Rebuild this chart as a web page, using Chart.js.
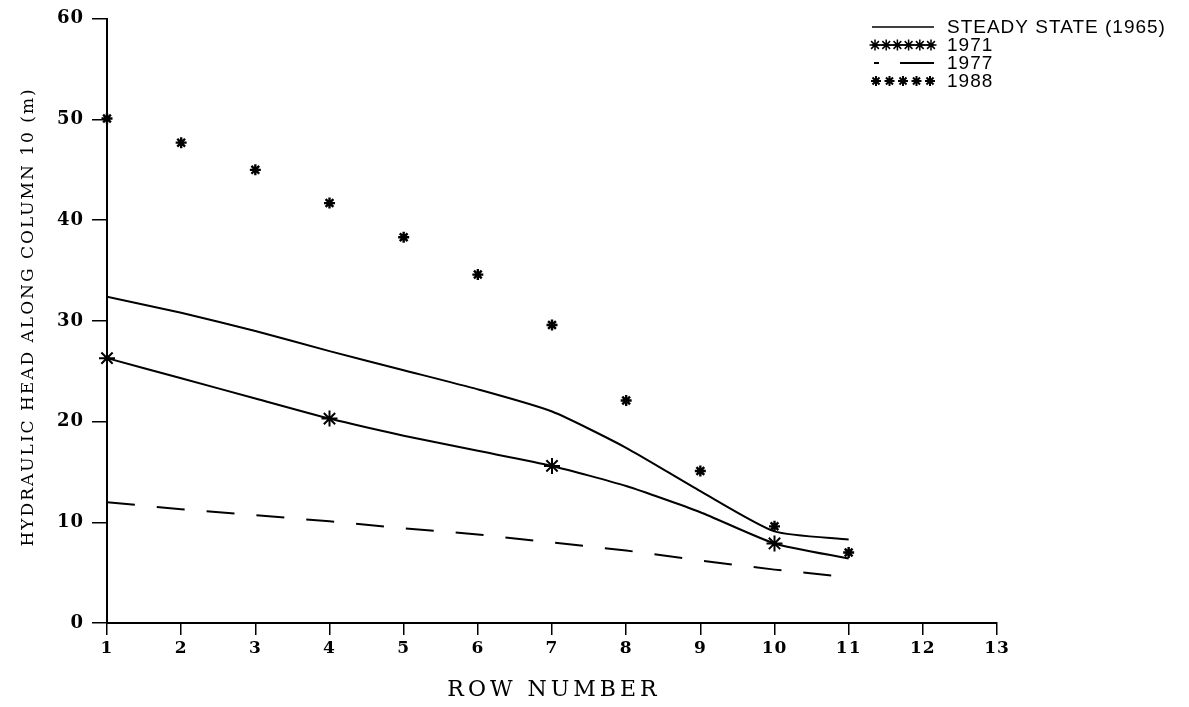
<!DOCTYPE html>
<html lang="en">
<head>
    <meta charset="utf-8">
    <title>Hydraulic head along column 10</title>
    <style>
        html, body { margin: 0; padding: 0; background: #fff; }
        #wrap { width: 1189px; height: 707px; }
    </style>
</head>
<body>
    <div id="wrap">
        <canvas id="myChart" width="1189" height="707"></canvas>
    </div>
    <script src="https://cdn.jsdelivr.net/npm/chart.js"></script>
    <script>
        // data
        const rows = [1, 2, 3, 4, 5, 6, 7, 8, 9, 10, 11];
        const steady1965 = [32.4, 30.8, 29.0, 27.0, 25.1, 23.2, 21.0, 17.4, 13.1, 9.1, 8.3];
        const head1971 = [26.3, 24.3, 22.3, 20.3, 18.6, 17.1, 15.6, 13.6, 11.0, 7.9, 6.4];
        const rows1977 = [1, 2, 3, 4, 5, 6, 7, 8, 9, 10, 10.8];
        const head1977 = [12.0, 11.3, 10.7, 10.1, 9.4, 8.8, 8.0, 7.2, 6.2, 5.3, 4.7];
        const head1988 = [50.1, 47.7, 45.0, 41.7, 38.3, 34.6, 29.6, 22.1, 15.1, 9.6, 7.0];
        // rows where the 1971 curve carries a marker
        const marked1971 = [1, 4, 7, 10];

        const xTicks = [1, 2, 3, 4, 5, 6, 7, 8, 9, 10, 11, 12, 13];
        const yTicks = [0, 10, 20, 30, 40, 50, 60];

        const legendItems = ['STEADY STATE (1965)', '1971', '1977', '1988'];
        const xTitle = 'ROW NUMBER';
        const yTitle = 'HYDRAULIC HEAD ALONG COLUMN 10 (m)';

        const pts = (xs, ys) => xs.map((x, i) => ({ x: x, y: ys[i] }));

        // a little letter spacing for the tick numbers, like the old plotter font
        const spacing = {
            id: 'spacing',
            beforeDraw(chart) { chart.ctx.letterSpacing = '1px'; }
        };

        // axis titles and legend with sample strokes
        const extras = {
            id: 'extras',
            afterDraw(chart) {
                const ctx = chart.ctx;
                const a = chart.chartArea;
                ctx.save();
                ctx.fillStyle = '#000';
                ctx.strokeStyle = '#000';
                ctx.textAlign = 'center';
                ctx.textBaseline = 'middle';

                ctx.letterSpacing = '4px';
                ctx.font = '22px "DejaVu Serif", serif';
                ctx.fillText(xTitle, (a.left + a.right) / 2 + 2, 690);

                ctx.save();
                ctx.letterSpacing = '2px';
                ctx.font = '17px "DejaVu Serif", serif';
                ctx.translate(29, (a.top + a.bottom) / 2 - 4);
                ctx.rotate(-Math.PI / 2);
                ctx.fillText(yTitle, 0, 0);
                ctx.restore();

                // legend
                const x0 = 872, x1 = 934, tx = 947;
                const ys = [27, 45, 63, 81];
                ctx.textAlign = 'left';
                ctx.letterSpacing = '1px';
                ctx.font = '19px "Liberation Sans", sans-serif';
                legendItems.forEach((t, i) => ctx.fillText(t, tx, ys[i] + 1));

                ctx.lineWidth = 1.5;
                ctx.beginPath(); ctx.moveTo(x0, ys[0]); ctx.lineTo(x1, ys[0]); ctx.stroke();
                ctx.beginPath(); ctx.moveTo(x0, ys[1]); ctx.lineTo(x1, ys[1]); ctx.stroke();
                for (let k = 0; k < 6; k++) {
                    Chart.helpers.drawPoint(ctx, { pointStyle: 'star', radius: 5.5, borderWidth: 1.5 }, x0 + 3 + k * 11.2, ys[1]);
                }
                ctx.lineWidth = 2;
                ctx.beginPath(); ctx.moveTo(x0 + 2, ys[2]); ctx.lineTo(x0 + 7, ys[2]); ctx.stroke();
                ctx.beginPath(); ctx.moveTo(x0 + 28, ys[2]); ctx.lineTo(x1, ys[2]); ctx.stroke();
                for (let k = 0; k < 5; k++) {
                    Chart.helpers.drawPoint(ctx, { pointStyle: 'star', radius: 5, borderWidth: 2 }, x0 + 4 + k * 13.5, ys[3]);
                }
                ctx.restore();
            }
        };

        const ctx = document.getElementById('myChart').getContext('2d');
        const myChart = new Chart(ctx, {
            type: 'scatter',
            data: {
                datasets: [
                    {
                        label: legendItems[0],
                        data: pts(rows, steady1965),
                        showLine: true,
                        borderColor: '#000',
                        borderWidth: 2,
                        pointRadius: 0,
                        tension: 0.2
                    },
                    {
                        label: legendItems[1],
                        data: pts(rows, head1971),
                        showLine: true,
                        clip: false,
                        borderColor: '#000',
                        backgroundColor: '#000',
                        borderWidth: 2,
                        pointStyle: 'star',
                        pointRadius: rows.map(r => marked1971.includes(r) ? 8 : 0),
                        pointBorderWidth: 2,
                        tension: 0.2
                    },
                    {
                        label: legendItems[2],
                        data: pts(rows1977, head1977),
                        showLine: true,
                        borderColor: '#000',
                        borderWidth: 2,
                        borderDash: [28, 22],
                        pointRadius: 0
                    },
                    {
                        label: legendItems[3],
                        data: pts(rows, head1988),
                        showLine: false,
                        clip: false,
                        borderColor: '#000',
                        backgroundColor: '#000',
                        pointStyle: 'star',
                        pointRadius: 5.5,
                        pointBorderWidth: 2.4
                    }
                ]
            },
            options: {
                responsive: false,
                animation: false,
                layout: { padding: { top: 18, right: 192, left: 0, bottom: 0 } },
                plugins: {
                    legend: { display: false },
                    tooltip: { enabled: false }
                },
                scales: {
                    x: {
                        type: 'linear',
                        min: 1,
                        max: 13,
                        afterBuildTicks: s => { s.ticks = xTicks.map(v => ({ value: v })); },
                        afterFit: s => { s.height = 84; },
                        border: { display: true, color: '#000', width: 2 },
                        grid: { drawOnChartArea: false, color: '#000', tickLength: 12, lineWidth: 1.5 },
                        ticks: {
                            color: '#000',
                            padding: 3,
                            maxRotation: 0,
                            font: { family: '"DejaVu Serif", serif', size: 17, weight: 'bold' }
                        }
                    },
                    y: {
                        min: 0,
                        max: 60,
                        afterBuildTicks: s => { s.ticks = yTicks.map(v => ({ value: v })); },
                        afterFit: s => { s.width = 107; },
                        border: { display: true, color: '#000', width: 2 },
                        grid: { drawOnChartArea: false, color: '#000', tickLength: 15, lineWidth: 1.5 },
                        ticks: {
                            color: '#000',
                            padding: 8,
                            font: { family: '"DejaVu Serif", serif', size: 18, weight: 'bold' }
                        }
                    }
                }
            },
            plugins: [spacing, extras]
        });
    </script>
</body>
</html>
